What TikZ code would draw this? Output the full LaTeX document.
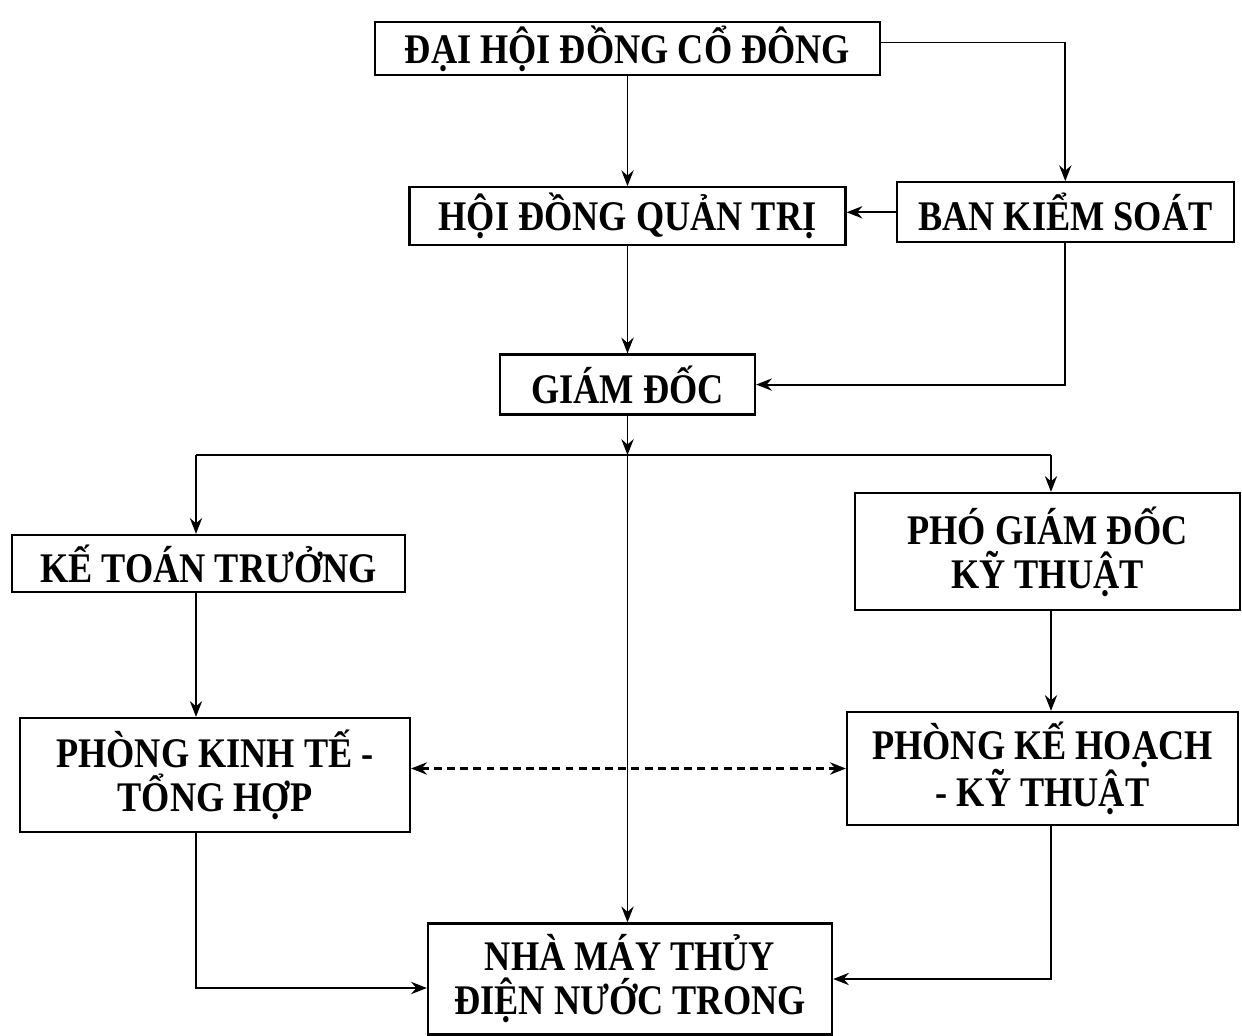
\documentclass[tikz,border=0pt]{standalone}
\usepackage{fontspec}
\setmainfont{Liberation Serif}[FakeStretch=0.86]
\usepackage{tikz}
\usetikzlibrary{arrows.meta, positioning}

\begin{document}
\begin{tikzpicture}[
    unit/.style={draw, rectangle, line width=1.3pt, text centered, align=center, inner sep=2pt,
                 font=\fontsize{24}{25}\selectfont\bfseries},
    arrow/.style={line width=1.1pt, -{Stealth[length=9pt,width=7pt,inset=3pt]}},
    twoway/.style={line width=1.5pt, dash pattern=on 4.5pt off 3pt,
                   {Stealth[length=9pt,width=7pt,inset=3pt]}-{Stealth[length=9pt,width=7pt,inset=3pt]}}
]
\useasboundingbox (0,0) rectangle (24.84,-20.72);

\node (dhdcd) [unit, minimum width=10.1cm, minimum height=1.06cm] at (12.55,-0.97) {ĐẠI HỘI ĐỒNG CỔ ĐÔNG};
\node (hdqt) [unit, minimum width=8.72cm, minimum height=1.16cm, below=2.2cm of dhdcd] {HỘI ĐỒNG QUẢN TRỊ};
\node (bks) [unit, minimum width=6.74cm, minimum height=1.2cm, right=0.98cm of hdqt, yshift=0.08cm] {BAN KIỂM SOÁT};
\node (gd) [unit, minimum width=5.1cm, minimum height=1.2cm, below=2.14cm of hdqt] {GIÁM ĐỐC};
\node (ktt) [unit, minimum width=7.86cm, minimum height=1.14cm] at (4.17,-11.27) {KẾ TOÁN TRƯỞNG};
\node (pgd) [unit, minimum width=7.7cm, minimum height=2.34cm] at (20.95,-11.03) {PHÓ GIÁM ĐỐC\\KỸ THUẬT};
\node (pktth) [unit, minimum width=7.8cm, minimum height=2.28cm] at (4.3,-15.5) {PHÒNG KINH TẾ -\\TỔNG HỢP};
\node (pkhkt) [unit, minimum width=7.82cm, minimum height=2.26cm] at (20.85,-15.37) {PHÒNG KẾ HOẠCH\\- KỸ THUẬT};
\node (nmtd) [unit, minimum width=8.08cm, minimum height=2.22cm] at (12.6,-19.58) {NHÀ MÁY THỦY\\ĐIỆN NƯỚC TRONG};

\coordinate (bus) at (12.55,-9.1);
\coordinate (colL) at (3.92,0);
\coordinate (colR) at (21.02,0);

\draw [arrow] (dhdcd) -- (hdqt);
\draw [arrow] ([yshift=0.12cm]dhdcd.east) -| (bks.north);
\draw [arrow] (bks.west) -- (hdqt.east |- bks.west);
\draw [arrow] (hdqt) -- (gd);
\draw [arrow] (bks.south) |- (gd.east);
\draw [arrow] (gd) -- (bus);
\draw [line width=1.1pt] (colL |- bus) -- (colR |- bus);
\draw [arrow] (colL |- bus) -- (colL |- ktt.north);
\draw [arrow] (colR |- bus) -- (colR |- pgd.north);
\draw [arrow] (bus) -- (bus |- nmtd.north);
\draw [arrow] (colL |- ktt.south) -- (colL |- pktth.north);
\draw [arrow] (colR |- pgd.south) -- (colR |- pkhkt.north);
\draw [twoway] (pkhkt.west -| pktth.east) -- (pkhkt.west);
\draw [arrow] (colL |- pktth.south) |- ([yshift=-0.18cm]nmtd.west);
\draw [arrow] (colR |- pkhkt.south) |- (nmtd.east);

\end{tikzpicture}
\end{document}
